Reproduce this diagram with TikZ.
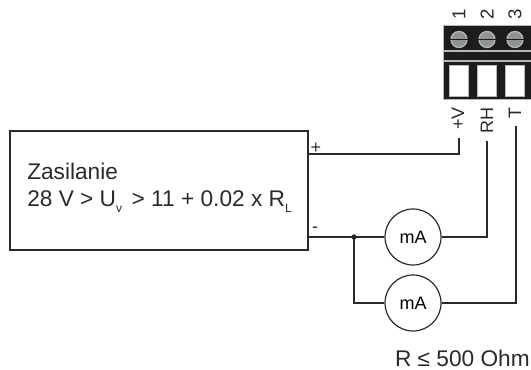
\documentclass[tikz,border=0pt]{standalone}
\usepackage{fontspec}
\setmainfont{Liberation Sans}
\usepackage{tikz}
\usetikzlibrary{positioning}
\definecolor{wirecol}{HTML}{2A2A2A}
\definecolor{blockcol}{HTML}{1C1C1C}
\definecolor{screwcol}{HTML}{B4B8B4}
\newcommand{\lowsub}[1]{\raisebox{-0.5ex}{\fontsize{9}{10}\selectfont #1}\hspace{2.5pt}}
\tikzset{
	wire/.style = {draw=wirecol, line width=0.9pt},
	meter/.style = {circle, draw=wirecol, line width=0.9pt, minimum size=42pt, inner sep=0pt, font=\fontsize{13.5}{15}\selectfont},
	pin/.style = {font=\fontsize{13.5}{15}\selectfont, inner sep=0pt, text=wirecol},
	screw/.style = {circle, draw=screwcol, line width=1pt, fill=screwcol!80!black, minimum size=12pt, inner sep=0pt},
	window/.style = {fill=white, draw=screwcol, line width=0.5pt}
}
\begin{document}
\begin{tikzpicture}[x=0.75pt,y=-0.75pt]
	\useasboundingbox (0,0) rectangle (531,370);
	% supply
	\node[draw=wirecol, line width=0.9pt, minimum width=223.5pt, minimum height=89.25pt, inner sep=0pt] (supply) at (159,190.5) {};
	\node[anchor=west, align=left, inner sep=0pt, text=wirecol, font=\fontsize{17}{20}\selectfont] (supplytext) at (27,188) {Zasilanie\\28 V > U\lowsub{v} > 11 + 0.02 x R\lowsub{L}};
	\node[pin] (plus) at (316,148) {+};
	\node[pin] (minus) at (315,230) {-};
	% terminal block
	\path[fill=blockcol, draw=screwcol, line width=0.5pt] (443,25) rectangle (531,99);
	\draw[screwcol, line width=0.9pt] (443,51) -- (531,51);
	\draw[screwcol, line width=0.9pt] (443,61) -- (531,61);
	\foreach \x/\name/\numb in {459/a/1, 487/b/2, 515/c/3} {
		\node[screw] (screw\name) at (\x,39.5) {};
		\draw[blockcol, line width=0.7pt] (screw\name.west) -- (screw\name.east);
		\path[window] (\x-9.5,65) rectangle (\x+9.5,96);
		\node[pin, rotate=90, font=\fontsize{14}{16}\selectfont] (num\name) at (\x,14) {\numb};
	}
	\node[pin, rotate=90, anchor=east] (lblv) at (458,107) {+V};
	\node[pin, rotate=90, anchor=east] (lblrh) at (487,107) {RH};
	\node[pin, rotate=90, anchor=east] (lblt) at (515,107) {T};
	% meters
	\node[meter] (meterrh) at (413,237) {mA};
	\node[meter] (metert) at (413,303) {mA};
	\coordinate (topv) at (459,138);
	\coordinate (toprh) at (487,141);
	\coordinate (topt) at (516,126);
	\coordinate (plusout) at (308,154);
	\coordinate (minusout) at (308,237);
	\coordinate (junction) at (354,237);
	% wires
	\path[wire] (plusout) -- (topv |- plusout) -- (topv);
	\path[wire] (minusout) -- (meterrh);
	\path[wire] (junction) |- (metert);
	\path[wire] (meterrh) -| (toprh);
	\path[wire] (metert) -| (topt);
	\fill[wirecol] (junction) circle (2pt);
	\node[pin, anchor=east, font=\fontsize{17}{19}\selectfont] (rnote) at (530,358) {R ≤ 500 Ohm};
\end{tikzpicture}
\end{document}
